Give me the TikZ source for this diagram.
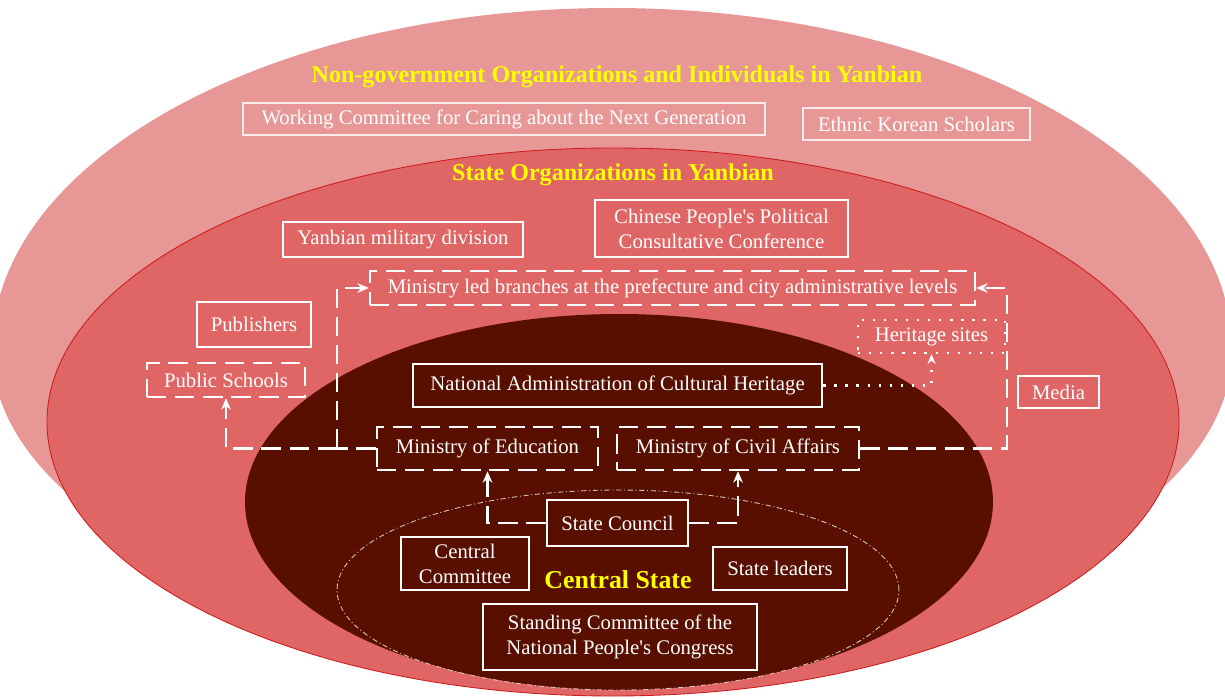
\documentclass[tikz,border=0pt]{standalone}
\usepackage{fontspec}
\setmainfont{Liberation Serif}
\usepackage{tikz}
\usetikzlibrary{arrows.meta,positioning}
\definecolor{outerpink}{RGB}{232,151,151}
\definecolor{statered}{RGB}{224,102,102}
\definecolor{rimred}{RGB}{205,30,30}
\definecolor{maroon}{RGB}{88,15,0}
\definecolor{titleyellow}{RGB}{255,255,0}
\tikzset{
	dims/.style 2 args={minimum width=#1, minimum height=#2},
	org_box/.style={
		draw=white, line width=1.4pt, text=white,
		align=center, inner sep=0pt,
		font=\fontsize{11.8}{14.2}\selectfont
	},
	dash_box/.style={org_box, dash pattern=on 11pt off 5pt},
	dot_box/.style={org_box, line width=1.3pt, dash pattern=on 1.3pt off 5pt},
	pale_box/.style={org_box, draw=white!80!outerpink, line width=0.8pt},
	title/.style={text=titleyellow, font=\fontsize{13.7}{16}\selectfont\bfseries},
	dash_line/.style={draw=white, line width=1.4pt, dash pattern=on 11pt off 5pt},
	dash_arrow/.style={dash_line, -{Stealth[length=6.5pt,width=5.5pt]}},
	dot_arrow/.style={draw=white, line width=1.3pt, dash pattern=on 1.3pt off 5pt,
		-{Stealth[length=5.5pt,width=4.5pt]}}
}

\begin{document}
\begin{tikzpicture}
  \useasboundingbox (0,0) rectangle (24.5,13.96);
  \clip (0,0) rectangle (24.5,13.96);
  \fill[outerpink] (-0.16,6.96) arc[start angle=180, end angle=0, x radius=12.4, y radius=6.84]
    arc[start angle=0, end angle=-180, x radius=12.4, y radius=6.0] -- cycle;
  \filldraw[fill=statered, draw=rimred, line width=0.5pt] (12.26,5.52) ellipse[x radius=11.32, y radius=5.48];
  \fill[maroon] (12.38,3.92) ellipse[x radius=7.48, y radius=3.76];
  \draw[white!75!maroon, line width=0.5pt, dash pattern=on 3pt off 1.5pt on 0.6pt off 1.5pt]
    (12.36,2.16) ellipse[x radius=5.62, y radius=2.0];

  \node[title] (ngo) at (12.34,12.42) {Non-government Organizations and Individuals in Yanbian};
  \node[pale_box, dims={10.44cm}{0.64cm}] (caring) at (10.08,11.58) {Working Committee for Caring about the Next Generation};
  \node[pale_box, dims={4.54cm}{0.64cm}] (scholars) at (18.33,11.48) {Ethnic Korean Scholars};

  \node[title] (stateorg) at (12.26,10.46) {State Organizations in Yanbian};
  \node[org_box, dims={4.8cm}{0.7cm}] (military) at (8.06,9.17) {Yanbian military division};
  \node[org_box, dims={5.06cm}{1.14cm}] (cppcc) at (14.43,9.39) {Chinese People\textquotesingle s Political\\Consultative Conference};
  \node[dash_box, dims={12.1cm}{0.68cm}] (branches) at (13.45,8.2) {Ministry led branches at the prefecture and city administrative levels};
  \node[org_box, dims={2.28cm}{0.9cm}] (publishers) at (5.08,7.47) {Publishers};
  \node[dash_box, dims={3.16cm}{0.68cm}] (schools) at (4.52,6.36) {Public Schools};
  \node[dot_box, dims={2.94cm}{0.66cm}] (heritage) at (18.63,7.23) {Heritage sites};
  \node[org_box, dims={1.62cm}{0.64cm}] (media) at (21.17,6.12) {Media};

  \node[org_box, dims={8.18cm}{0.86cm}] (nach) at (12.35,6.25) {National Administration of Cultural Heritage};
  \node[dash_box, dims={4.42cm}{0.86cm}] (education) at (9.75,4.99) {Ministry of Education};
  \node[dash_box, dims={4.84cm}{0.86cm}] (civil) at (14.76,4.99) {Ministry of Civil Affairs};
  \node[org_box, fill=maroon, dims={2.82cm}{0.92cm}] (council) at (12.35,3.5) {State Council};
  \node[org_box, fill=maroon, dims={2.56cm}{1.06cm}] (committee) at (9.3,2.69) {Central\\Committee};
  \node[title, font=\fontsize{14.7}{17}\selectfont\bfseries] (central) at (12.36,2.36) {Central State};
  \node[org_box, fill=maroon, dims={2.68cm}{0.86cm}] (leaders) at (15.6,2.59) {State leaders};
  \node[org_box, fill=maroon, dims={5.48cm}{1.32cm}] (npc) at (12.4,1.22) {Standing Committee of the\\National People\textquotesingle s Congress};

  \coordinate (edu_turn) at (6.74,4.99);
  \coordinate (civil_turn) at (20.14,4.99);
  \draw[dash_arrow] (council.west) -| (education.south);
  \draw[dash_arrow] (council.east) -| (civil.south);
  \draw[dash_line] (education.west) -- (edu_turn);
  \draw[dash_arrow] (edu_turn) -| (schools.south);
  \draw[dash_arrow] (edu_turn) |- (branches.west);
  \draw[dash_arrow] (civil.east) -- (civil_turn) |- (branches.east);
  \draw[dot_arrow] (nach.east) -| (heritage.south);
\end{tikzpicture}
\end{document}
